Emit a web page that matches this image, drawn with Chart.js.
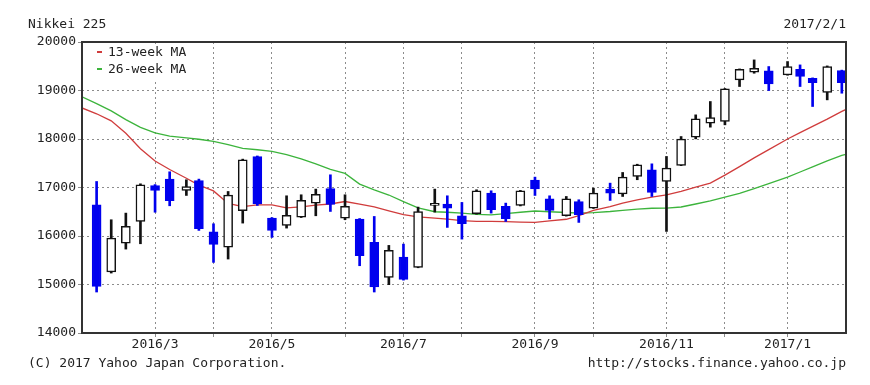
<!DOCTYPE html>
<html>
<head>
<meta charset="utf-8">
<script src="https://cdn.jsdelivr.net/npm/chart.js@4.4.0/dist/chart.umd.min.js"></script>
<style>
  html, body { margin: 0; padding: 0; background: #fff; }
</style>
</head>
<body>
<canvas id="candleChart" width="870" height="385"></canvas>
<script>
// Nikkei 225 weekly candles (first trading day of each week)
const weekDates = [
  '2016-02-08', '2016-02-15', '2016-02-22', '2016-02-29', '2016-03-07', '2016-03-14', '2016-03-22', '2016-03-28',
  '2016-04-04', '2016-04-11', '2016-04-18', '2016-04-25', '2016-05-02', '2016-05-09', '2016-05-16', '2016-05-23',
  '2016-05-30', '2016-06-06', '2016-06-13', '2016-06-20', '2016-06-27', '2016-07-04', '2016-07-11', '2016-07-19',
  '2016-07-25', '2016-08-01', '2016-08-08', '2016-08-15', '2016-08-22', '2016-08-29', '2016-09-05', '2016-09-12',
  '2016-09-20', '2016-09-26', '2016-10-03', '2016-10-11', '2016-10-17', '2016-10-24', '2016-10-31', '2016-11-07',
  '2016-11-14', '2016-11-21', '2016-11-28', '2016-12-05', '2016-12-12', '2016-12-19', '2016-12-26', '2017-01-04',
  '2017-01-10', '2017-01-16', '2017-01-23', '2017-01-30'
];
const opens = [
  16644, 15257, 15854, 16300, 17042, 17173, 16939, 17145, 16088, 15772, 16520, 17640, 16369,
  16218, 16390, 16678, 16980, 16369, 16349, 15868, 15147, 15566, 15353, 16630, 16657, 16417,
  16458, 16884, 16610, 16630, 17152, 16767, 16417, 16712, 16575, 16967, 16870, 17227, 17365,
  17124, 17454, 18038, 18326, 18361, 19219, 19377, 19404, 19322, 19439, 19253, 18958, 19411
];
const highs = [
  17124, 16335, 16472, 17076, 17060, 17324, 17159, 17173, 16252, 16918, 17585, 17650, 16380,
  16829, 16850, 16967, 17262, 16850, 16360, 16403, 15806, 15833, 16596, 16967, 16829, 16692,
  16953, 16932, 16678, 16940, 17214, 16829, 16815, 16747, 16987, 17090, 17310, 17480, 17488,
  17640, 18051, 18498, 18773, 19040, 19445, 19631, 19494, 19597, 19528, 19260, 19507, 19420
];
const lows = [
  14845, 15236, 15730, 15840, 16490, 16623, 16836, 16115, 15456, 15525, 16266, 16630, 15971,
  16163, 16380, 16417, 16506, 16335, 15387, 14845, 14996, 15090, 15345, 16493, 16177, 15936,
  16450, 16472, 16300, 16620, 16836, 16355, 16410, 16280, 16570, 16733, 16815, 17160, 16815,
  16094, 17450, 18003, 18244, 18292, 19082, 19356, 18999, 19315, 19082, 18670, 18807, 18944
];
const closes = [
  14961, 15957, 16197, 17056, 16939, 16726, 17021, 16149, 15827, 16843, 17571, 16664, 16115,
  16424, 16733, 16857, 16651, 16610, 15593, 14948, 15703, 15106, 16506, 16644, 16575, 16252,
  16932, 16541, 16355, 16932, 16973, 16527, 16767, 16438, 16884, 16884, 17214, 17468, 16898,
  17399, 17997, 18415, 18443, 19033, 19439, 19459, 19137, 19494, 19288, 19164, 19494, 19164
];

// moving averages: chart start, each candle week, chart end
const maDates = ['2016-02-01'].concat(weekDates, ['2017-02-01']);
const ma13 = [
  18640,
  18520, 18375, 18120, 17800, 17545, 17370, 17190, 17050, 16930, 16670, 16605, 16640, 16643,
  16580, 16600, 16635, 16660, 16711, 16655, 16600, 16520, 16440, 16395, 16369, 16350, 16315,
  16300, 16300, 16295, 16285, 16280, 16310, 16345, 16420, 16530, 16608, 16680, 16745, 16800,
  16849, 16920, 17010, 17090, 17255, 17430, 17610, 17780, 18000, 18130, 18260, 18410, 18570,
  18610
];
const ma26 = [
  18870,
  18730, 18580, 18400, 18240, 18125, 18060, 18025, 17995, 17950, 17885, 17808, 17778, 17743,
  17680, 17590, 17485, 17375, 17290, 17070, 16950, 16845, 16710, 16580, 16500, 16490, 16470,
  16445, 16437, 16460, 16490, 16515, 16500, 16485, 16470, 16482, 16505, 16530, 16555, 16572,
  16575, 16598, 16660, 16725, 16800, 16880, 16975, 17080, 17214, 17320, 17425, 17550, 17660,
  17685
];

// month gridlines (first candle of each month) and their labels
const monthDates = [
  '2016-03-07', '2016-04-04', '2016-05-02', '2016-06-06', '2016-07-04', '2016-08-01',
  '2016-09-05', '2016-10-03', '2016-11-07', '2016-12-05', '2017-01-04'
];
const monthLabels = ['2016/3', '', '2016/5', '', '2016/7', '', '2016/9', '', '2016/11', '', '2017/1'];

const yTicks = [14000, 15000, 16000, 17000, 18000, 19000, 20000];

const startDay = Date.parse('2016-02-01T00:00:00Z');
function dayOf(s) {
  return (Date.parse(s + 'T00:00:00Z') - startDay) / 86400000;
}

const BLUE = '#0000ee';
const FONT = "'DejaVu Sans Mono', 'Liberation Mono', monospace";
const isUp = i => closes[i] >= opens[i];

const bodyData = weekDates.map((d, i) => ({ x: dayOf(d), y: [opens[i], closes[i]] }));
const wickData = weekDates.map((d, i) => ({ x: dayOf(d), y: [lows[i], highs[i]] }));
const ma13Data = maDates.map((d, i) => ({ x: dayOf(d), y: ma13[i] }));
const ma26Data = maDates.map((d, i) => ({ x: dayOf(d), y: ma26[i] }));

// frame, legend, title and footer texts
const decorations = {
  id: 'decorations',
  afterDraw(chart) {
    const ctx = chart.ctx;
    const a = chart.chartArea;
    ctx.save();
    ctx.strokeStyle = '#333';
    ctx.lineWidth = 2;
    ctx.strokeRect(a.left, a.top, a.right - a.left, a.bottom - a.top);

    // legend box inside the plot
    ctx.fillStyle = '#fff';
    ctx.fillRect(a.left + 8, a.top + 3, 108, 34);
    ctx.font = '13px ' + FONT;
    ctx.textBaseline = 'middle';
    const rows = [['13-week MA', '#d03c3c', 52], ['26-week MA', '#3cb43c', 69]];
    rows.forEach(r => {
      ctx.fillStyle = r[1];
      ctx.fillRect(a.left + 15, r[2] - 1, 5, 2);
      ctx.fillStyle = '#222';
      ctx.textAlign = 'left';
      ctx.fillText(r[0], a.left + 26, r[2] + 1);
    });

    ctx.fillStyle = '#222';
    ctx.textAlign = 'left';
    ctx.fillText('Nikkei 225', 28, 25);
    ctx.fillText('(C) 2017 Yahoo Japan Corporation.', 28, 364);
    ctx.textAlign = 'right';
    ctx.fillText('2017/2/1', a.right, 25);
    ctx.fillText('http://stocks.finance.yahoo.co.jp', a.right, 364);
    ctx.restore();
  }
};

const ctx = document.getElementById('candleChart').getContext('2d');
const candleChart = new Chart(ctx, {
  type: 'bar',
  data: {
    datasets: [
      {
        type: 'line',
        label: '13-week MA',
        data: ma13Data,
        borderColor: '#d03c3c',
        borderWidth: 1.3,
        pointRadius: 0,
        tension: 0,
        order: 3
      },
      {
        type: 'line',
        label: '26-week MA',
        data: ma26Data,
        borderColor: '#3cb43c',
        borderWidth: 1.3,
        pointRadius: 0,
        tension: 0,
        order: 3
      },
      {
        label: 'wick',
        data: wickData,
        barThickness: 2,
        grouped: false,
        backgroundColor: weekDates.map((d, i) => isUp(i) ? '#111' : BLUE),
        borderWidth: 0,
        order: 2
      },
      {
        label: 'body',
        data: bodyData,
        barThickness: 9,
        grouped: false,
        minBarLength: 2,
        backgroundColor: weekDates.map((d, i) => isUp(i) ? '#fff' : BLUE),
        borderColor: weekDates.map((d, i) => isUp(i) ? '#111' : BLUE),
        borderWidth: 1.5,
        borderSkipped: false,
        order: 1
      }
    ]
  },
  options: {
    responsive: false,
    animation: false,
    devicePixelRatio: 1,
    layout: { padding: { left: 0, right: 24, top: 42, bottom: 0 } },
    plugins: {
      legend: { display: false },
      tooltip: { enabled: false }
    },
    scales: {
      x: {
        type: 'linear',
        min: 0,
        max: dayOf('2017-02-01'),
        offset: false,
        afterFit: s => { s.height = 52; },
        afterBuildTicks: s => { s.ticks = monthDates.map(d => ({ value: dayOf(d) })); },
        ticks: {
          autoSkip: false,
          maxRotation: 0,
          padding: 0,
          color: '#222',
          font: { family: FONT, size: 13 },
          callback: (v, i) => monthLabels[i]
        },
        grid: { color: '#8c8c8c', tickLength: 4, tickColor: '#8c8c8c', offset: false },
        border: { display: false, dash: [2, 3] }
      },
      y: {
        min: 14000,
        max: 20000,
        afterFit: s => { s.width = 82; },
        afterBuildTicks: s => { s.ticks = yTicks.map(v => ({ value: v })); },
        ticks: {
          padding: 2,
          color: '#222',
          font: { family: FONT, size: 13 },
          callback: v => String(v)
        },
        grid: { color: '#8c8c8c', tickLength: 4, tickColor: '#8c8c8c' },
        border: { display: false, dash: [2, 3] }
      }
    }
  },
  plugins: [decorations]
});
</script>
</body>
</html>
